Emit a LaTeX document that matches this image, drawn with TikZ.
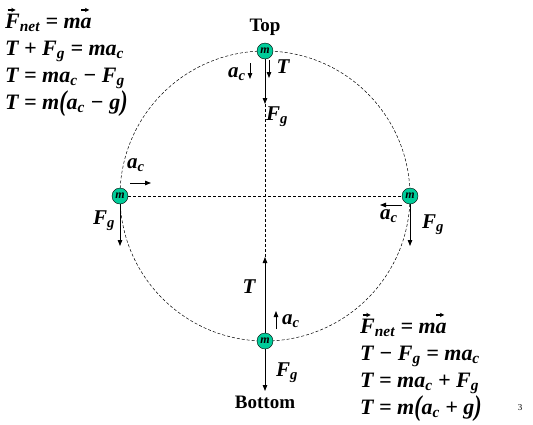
\documentclass[tikz,border=0pt]{standalone}
\usepackage{fontspec}
\setmainfont{Liberation Serif}
\usepackage{graphicx}
\usetikzlibrary{arrows.meta, positioning, calc}
\definecolor{ballgreen}{RGB}{0,204,153}
\newcommand\sub[1]{\textsubscript{#1}}
\newcommand\vecover[1]{\leavevmode\ooalign{#1\cr\hidewidth\raisebox{0.72em}{\tikz[x=1em,y=1em]\draw[line width=0.05em,-{Stealth[length=0.2em,width=0.2em]}] (0,0) -- (0.36,0);}\kern0.08em\hidewidth\cr}}
\newcommand\tallpar[1]{\raisebox{-0.07em}{\scalebox{1}[1.3]{#1}}}

\begin{document}
\begin{tikzpicture}[x=1pt, y=-1pt,
    ball/.style={circle, draw, fill=ballgreen, minimum size=16pt, inner sep=0pt,
        font=\bfseries\itshape\fontsize{12}{12}\selectfont},
    force/.style={-{Triangle[length=6pt,width=4.5pt]}, line width=0.8pt},
    guide/.style={densely dashed, line width=0.5pt},
    lbl/.style={font=\bfseries\itshape\fontsize{21}{21}\selectfont, inner sep=0pt},
    eqn/.style={font=\bfseries\itshape\fontsize{22}{22}\selectfont, anchor=base west, inner sep=0pt},
    place/.style={font=\bfseries\fontsize{19}{19}\selectfont, inner sep=0pt}]
  \useasboundingbox (0,0) rectangle (533,424);

  % path of the mass
  \coordinate (c) at (265,196);
  \draw[guide] (c) circle (145pt);
  \node[ball] (top) at (265,51) {m};
  \node[ball] (bottom) at (265,341) {m};
  \node[ball] (left) at (120,196) {m};
  \node[ball] (right) at (410,196) {m};
  \draw[guide] (top) -- (bottom);
  \draw[guide] (left) -- (right);

  % top
  \node[place] (toplbl) at ($(top)+(0,-24)$) {Top};
  \coordinate (topFg) at ($(top)+(0,53)$);
  \coordinate (topT1) at ($(top)+(4,9)$);
  \coordinate (topT2) at ($(top)+(4,27)$);
  \coordinate (topa1) at ($(top)+(-15,12)$);
  \coordinate (topa2) at ($(top)+(-15,28)$);
  \draw[force] (top) -- (topFg);
  \draw[force] (topT1) -- (topT2);
  \draw[force] (topa1) -- (topa2);
  \node[lbl] (topTl) at ($(top)+(18,16)$) {T};
  \node[lbl] (topal) at ($(top)+(-28,23)$) {a\sub{c}};
  \node[lbl] (topFgl) at ($(top)+(12,66)$) {F\sub{g}};

  % left
  \coordinate (leftFg) at ($(left)+(0,50)$);
  \coordinate (lefta1) at ($(left)+(10,-13)$);
  \coordinate (lefta2) at ($(left)+(31,-13)$);
  \draw[force] (left) -- (leftFg);
  \draw[force] (lefta1) -- (lefta2);
  \node[lbl] (leftal) at ($(left)+(16,-31)$) {a\sub{c}};
  \node[lbl] (leftFgl) at ($(left)+(-16,25)$) {F\sub{g}};

  % right
  \coordinate (rightFg) at ($(right)+(0,50)$);
  \coordinate (righta1) at ($(right)+(-8,9)$);
  \coordinate (righta2) at ($(right)+(-30,9)$);
  \draw[force] (right) -- (rightFg);
  \draw[force] (righta1) -- (righta2);
  \node[lbl] (rightal) at ($(right)+(-21,20)$) {a\sub{c}};
  \node[lbl] (rightFgl) at ($(right)+(23,29)$) {F\sub{g}};

  % bottom
  \coordinate (bottomT) at ($(bottom)+(0,-84)$);
  \coordinate (bottomFg) at ($(bottom)+(0,50)$);
  \coordinate (bottoma1) at ($(bottom)+(11,-12)$);
  \coordinate (bottoma2) at ($(bottom)+(11,-30)$);
  \draw[force] (bottom) -- (bottomT);
  \draw[force] (bottom) -- (bottomFg);
  \draw[force] (bottoma1) -- (bottoma2);
  \node[lbl] (bottomTl) at ($(bottom)+(-16,-54)$) {T};
  \node[lbl] (bottomal) at ($(bottom)+(26,-20)$) {a\sub{c}};
  \node[lbl] (bottomFgl) at ($(bottom)+(22,32)$) {F\sub{g}};
  \node[place] (bottomlbl) at ($(bottom)+(0,61)$) {Bottom};

  % equations at the top
  \node[eqn] (topeq1) at (5,28) {\vecover{F}\sub{net} = m\vecover{a}};
  \node[eqn] (topeq2) at (5,55) {T + F\sub{g} = ma\sub{c}};
  \node[eqn] (topeq3) at (5,82) {T = ma\sub{c} − F\sub{g}};
  \node[eqn] (topeq4) at (5,109) {T = m\tallpar{(}a\sub{c} − g\tallpar{)}};

  % equations at the bottom
  \node[eqn] (boteq1) at (360,333) {\vecover{F}\sub{net} = m\vecover{a}};
  \node[eqn] (boteq2) at (360,360) {T − F\sub{g} = ma\sub{c}};
  \node[eqn] (boteq3) at (360,387) {T = ma\sub{c} + F\sub{g}};
  \node[eqn] (boteq4) at (360,414) {T = m\tallpar{(}a\sub{c} + g\tallpar{)}};

  \node[font=\fontsize{9}{9}\selectfont] (pageno) at (520,408) {3};
\end{tikzpicture}
\end{document}
